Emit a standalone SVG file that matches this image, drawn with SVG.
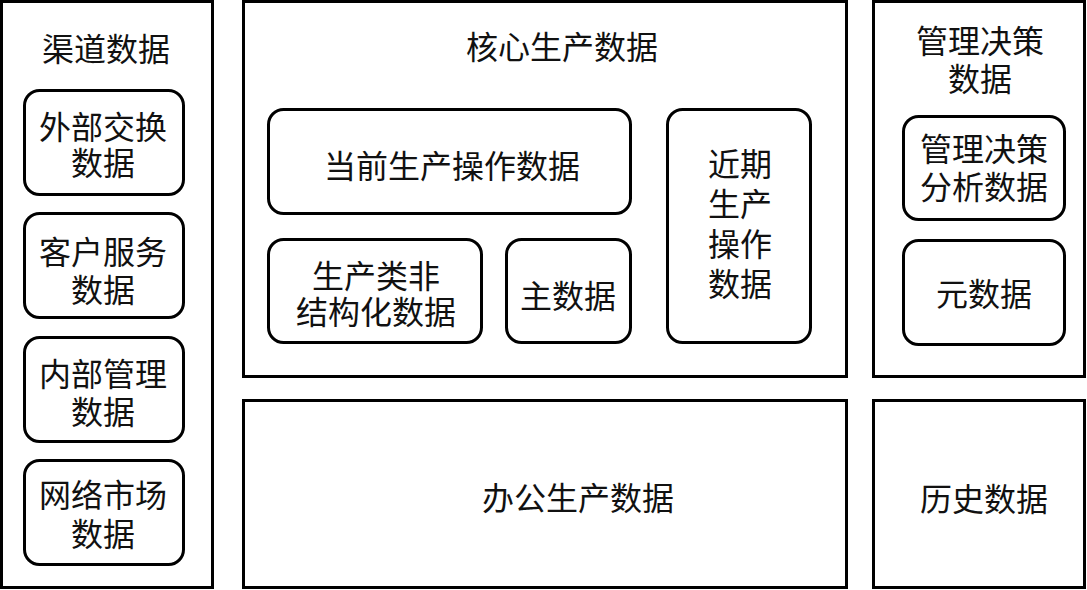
<svg xmlns="http://www.w3.org/2000/svg" width="1087" height="590" viewBox="0 0 1087 590">
<style>
.panel{fill:#fff;stroke:#000;stroke-width:3}
.box{fill:#fff;stroke:#000;stroke-width:3}
text{font-family:"Noto Sans CJK SC","Noto Sans",sans-serif;font-size:32px;fill:#111;text-anchor:middle}
</style>
<rect width="1087" height="590" fill="#fff"/>
<g id="channel">
<rect class="panel" x="1.5" y="1.5" width="211" height="586"/>
<text x="106" y="61">渠道数据</text>
</g>
<g id="ext"><rect class="box" x="24.5" y="90.5" width="159" height="104" rx="15"/><text x="103" y="139">外部交换<tspan x="103" dy="36">数据</tspan></text></g>
<g id="cust"><rect class="box" x="24.5" y="213.5" width="159" height="104" rx="15"/><text x="103" y="264">客户服务<tspan x="103" dy="38">数据</tspan></text></g>
<g id="internal"><rect class="box" x="24.5" y="337.5" width="159" height="104" rx="15"/><text x="103" y="386">内部管理<tspan x="103" dy="38">数据</tspan></text></g>
<g id="network"><rect class="box" x="24.5" y="460.5" width="159" height="104" rx="15"/><text x="103" y="507">网络市场<tspan x="103" dy="39">数据</tspan></text></g>
<g id="core">
<rect class="panel" x="243.5" y="1.5" width="603" height="375"/>
<text x="562" y="59">核心生产数据</text>
</g>
<g id="current"><rect class="box" x="268.5" y="109.5" width="362" height="104" rx="15"/><text x="452" y="178">当前生产操作数据</text></g>
<g id="unstructured"><rect class="box" x="268.5" y="239.5" width="213" height="103" rx="15"/><text x="376" y="288">生产类非<tspan x="376" dy="36">结构化数据</tspan></text></g>
<g id="master"><rect class="box" x="506.5" y="239.5" width="124" height="103" rx="15"/><text x="568" y="308">主数据</text></g>
<g id="recent"><rect class="box" x="667.5" y="109.5" width="143" height="233" rx="15"/><text x="740" y="176">近期<tspan x="740" dy="40">生产</tspan><tspan x="740" dy="40">操作</tspan><tspan x="740" dy="40">数据</tspan></text></g>
<g id="mgmt">
<rect class="panel" x="873.5" y="1.5" width="211" height="375"/>
<text x="980" y="53">管理决策<tspan x="980" dy="38">数据</tspan></text>
</g>
<g id="analysis"><rect class="box" x="903.5" y="116.5" width="161" height="103" rx="15"/><text x="984" y="161">管理决策<tspan x="984" dy="38">分析数据</tspan></text></g>
<g id="meta"><rect class="box" x="903.5" y="240.5" width="161" height="104" rx="15"/><text x="984" y="306">元数据</text></g>
<g id="office"><rect class="panel" x="243.5" y="400.5" width="603" height="187"/><text x="578" y="510">办公生产数据</text></g>
<g id="history"><rect class="panel" x="873.5" y="400.5" width="211" height="187"/><text x="984" y="511">历史数据</text></g>
<g id="connectors"></g>
</svg>
